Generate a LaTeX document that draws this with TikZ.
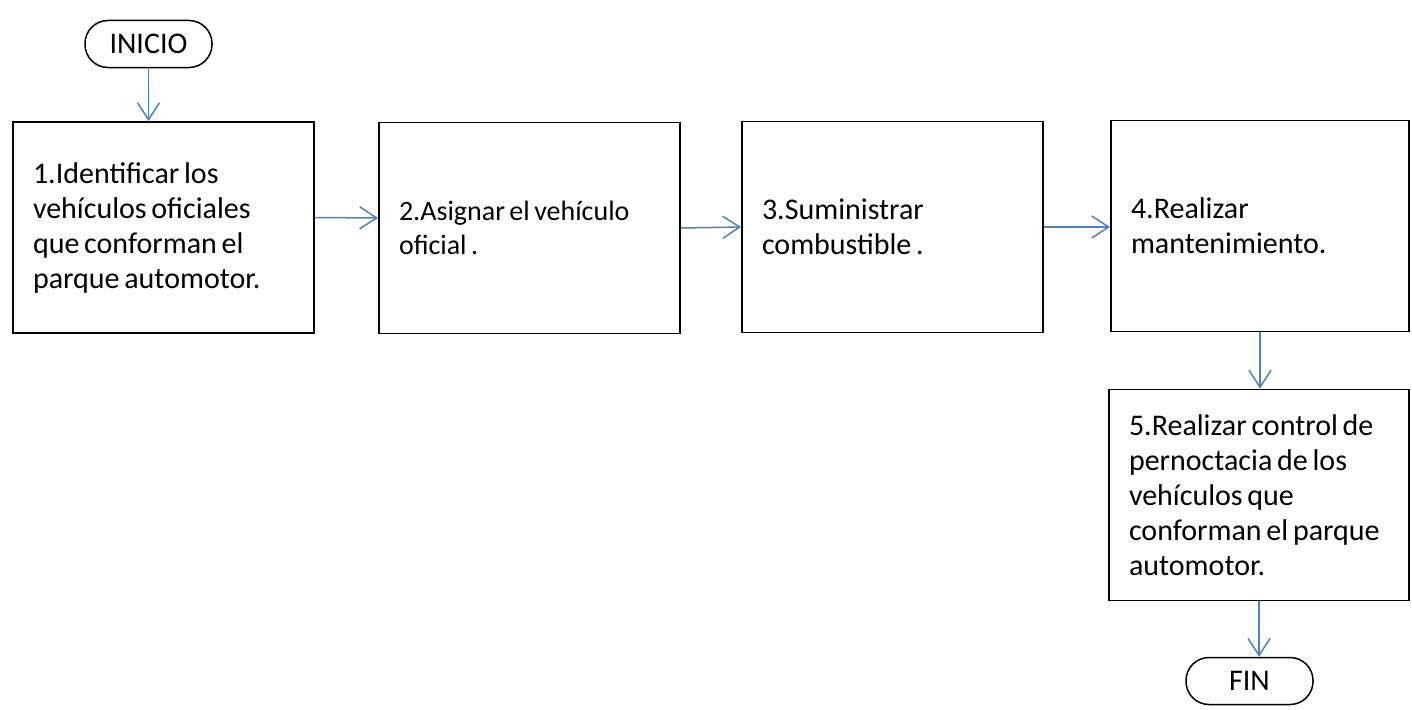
\documentclass[tikz,border=0pt]{standalone}
\usepackage{fontspec}
\setmainfont{Carlito}[WordSpace=0.7]
\usetikzlibrary{arrows.meta}

\definecolor{azulflecha}{RGB}{79,129,189}

\tikzset{
  paso/.style={draw=black, line width=1.8pt, rectangle, align=flush left,
    minimum height=211pt, text width=261pt, inner xsep=20pt,
    font=\fontsize{30}{35}\selectfont},
  terminal/.style={draw=black, line width=1.5pt, rectangle, rounded corners=23pt,
    minimum width=127pt, minimum height=47pt, font=\fontsize{30}{32}\selectfont},
  flecha/.style={draw=azulflecha, line width=1.5pt,
    -{Straight Barb[length=17pt,width=22pt,line width=1.5pt]}}
}

\begin{document}
\begin{tikzpicture}[x=1pt,y=-1pt]
  \useasboundingbox (0,0) rectangle (1412,709);

  \node[terminal] (inicio) at (148.5,44) {INICIO};

  \node[paso] (p1) at (163.5,227.5) {1.Identificar los\\vehículos oficiales\\que conforman el\\parque automotor.};
  \node[paso, font=\fontsize{28}{34}\selectfont] (p2) at (529.5,228) {2.Asignar el vehículo\\oficial .};
  \node[paso] (p3) at (892.5,227) {3.Suministrar\\combustible .};
  \node[paso, text width=258pt] (p4) at (1260,226) {4.Realizar\\mantenimiento.};
  \node[paso, text width=260pt] (p5) at (1259,495) {5.Realizar control de\\pernoctacia de los\\vehículos que\\conforman el parque\\automotor.};

  \node[terminal] (fin) at (1249.5,681) {FIN};

  \draw[flecha] (inicio.south) -- (inicio.south |- p1.north);
  \draw[flecha] ([yshift=10pt]p1.east) -- ([yshift=10pt]p2.west);
  \draw[flecha] (p2.east) -- (p3.west);
  \draw[flecha] (p3.east) -- (p3.east -| p4.west);
  \draw[flecha] (p4.south) -- (p4.south |- p5.north);
  \draw[flecha] (p5.south) -- (p5.south |- fin.north);
\end{tikzpicture}
\end{document}
